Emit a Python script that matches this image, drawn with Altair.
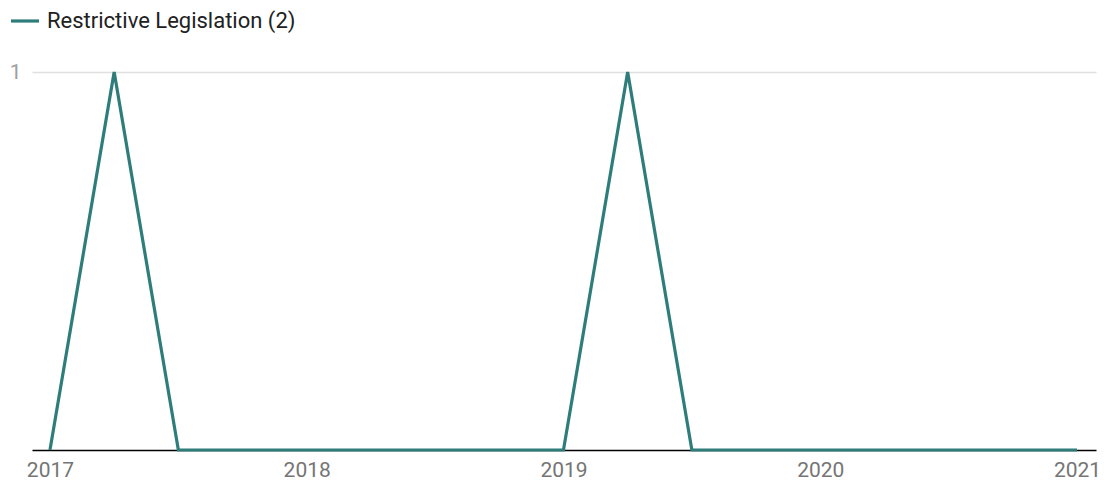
import altair as alt
import pandas as pd

quarters = [2017.0, 2017.25, 2017.5, 2017.75, 2018.0, 2018.25, 2018.5, 2018.75,
            2019.0, 2019.25, 2019.5, 2019.75, 2020.0, 2020.25, 2020.5, 2020.75, 2021.0]
values = [0, 1, 0, 0, 0, 0, 0, 0, 0, 1, 0, 0, 0, 0, 0, 0, 0]
series_name = "Restrictive Legislation (2)"
year_ticks = [2017, 2018, 2019, 2020, 2021]

df = pd.DataFrame({"t": quarters, "v": values, "s": [series_name] * len(values)})

chart = alt.Chart(df).mark_line(strokeWidth=3.2, clip=False).encode(
    x=alt.X("t:Q", title=None,
            scale=alt.Scale(domain=[2016.93, 2021.074], nice=False, zero=False),
            axis=alt.Axis(values=year_ticks, format="d", grid=False, ticks=False,
                          domain=True, domainColor="#000000", domainWidth=1.5,
                          labelFont="Roboto", labelFontSize=21, labelColor="#757575",
                          labelPadding=9)),
    y=alt.Y("v:Q", title=None, scale=alt.Scale(domain=[0, 1], nice=False),
            axis=alt.Axis(values=[1], format="d", grid=True, gridColor="#e0e0e0",
                          gridWidth=1.5, ticks=False, domain=False,
                          labelFont="Roboto", labelFontSize=21, labelColor="#9e9e9e",
                          labelPadding=11, labelBaseline="middle")),
    color=alt.Color("s:N", scale=alt.Scale(range=["#2e7d7b"]),
                    legend=alt.Legend(title=None, orient="none", legendX=-23, legendY=-67,
                                      symbolType="stroke", symbolSize=784,
                                      symbolStrokeWidth=3.2, labelFont="Roboto",
                                      labelFontSize=22, labelColor="#212121",
                                      labelOffset=6, labelLimit=600, padding=0)),
).properties(
    width=1064, height=378,
    autosize=alt.AutoSizeParams(type="none"),
    padding={"left": 32, "top": 72, "right": 11, "bottom": 37},
).configure(background="#ffffff").configure_view(stroke=None)

chart.save("out.html", embed_options={"renderer": "svg", "actions": False})
